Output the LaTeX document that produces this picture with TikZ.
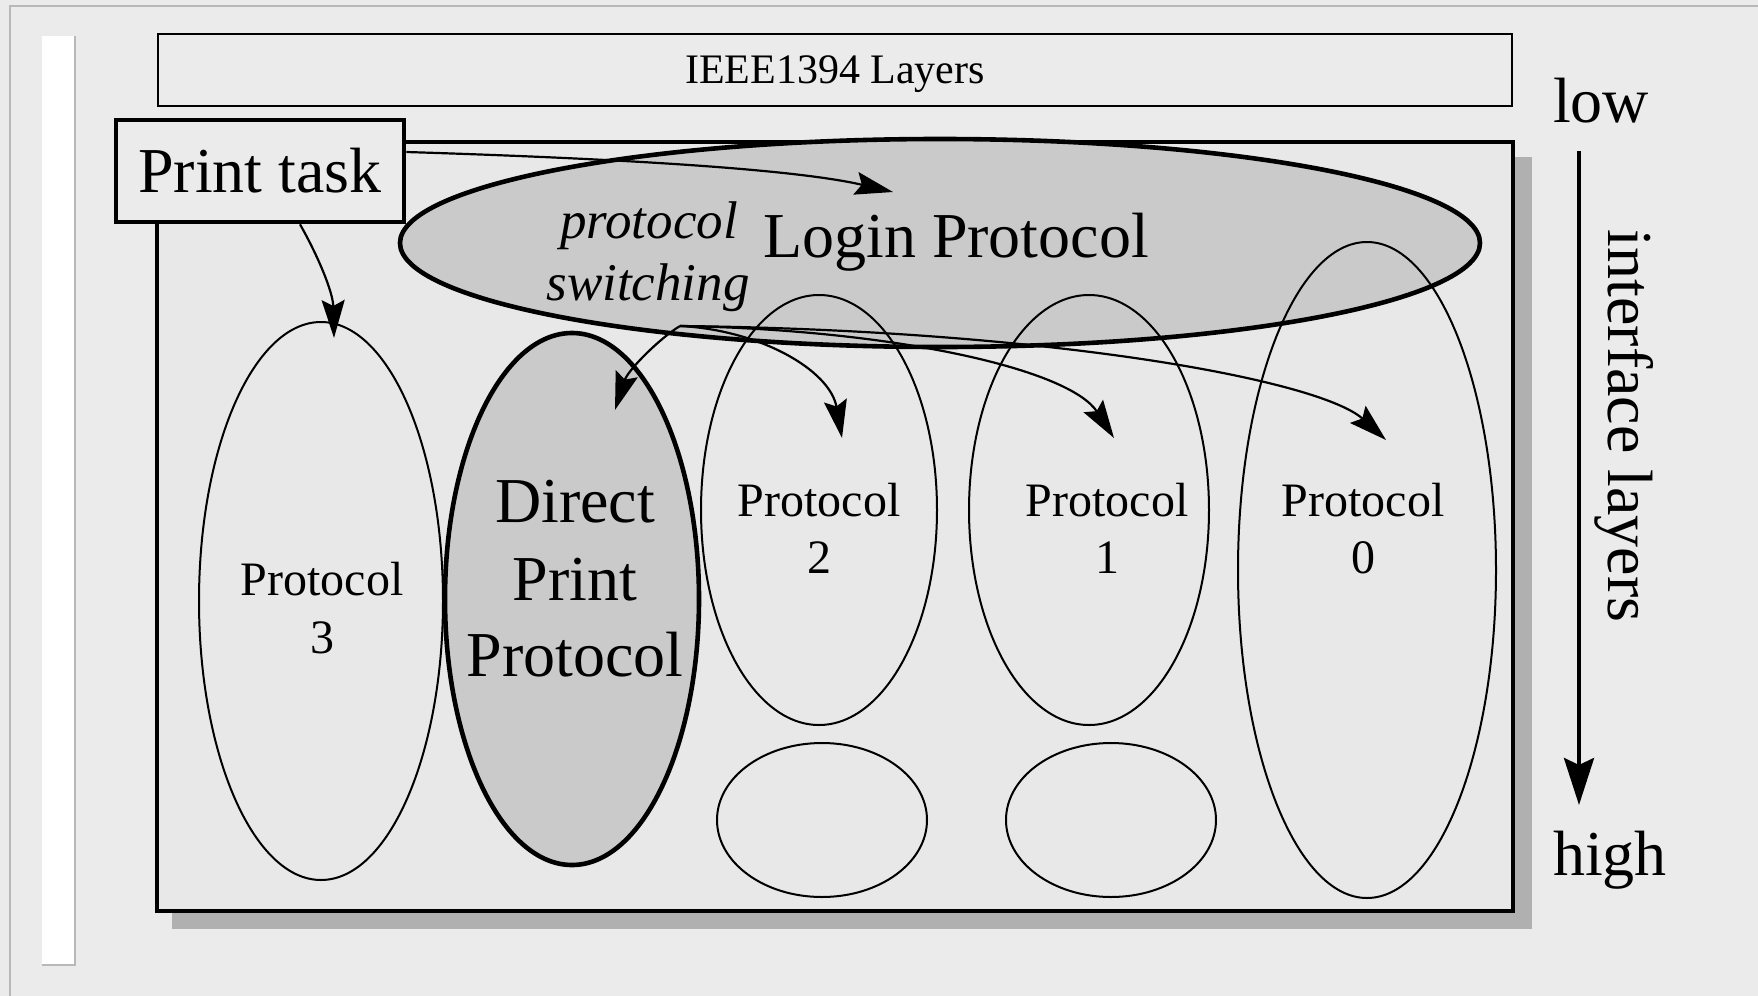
\documentclass[tikz,border=0pt]{standalone}
\usepackage{fontspec}
\setmainfont{Liberation Serif}
\usetikzlibrary{arrows.meta,shapes.geometric}
\definecolor{bgGray}{HTML}{EBEBEB}
\definecolor{boxGray}{HTML}{E8E8E8}
\definecolor{pGray}{HTML}{CACACA}
\definecolor{shGray}{HTML}{B0B0B0}
\definecolor{rimGray}{HTML}{B8B8B8}
\tikzset{
    proto/.style={ellipse, draw, line width=1pt, inner sep=0pt},
    hiproto/.style={ellipse, draw, line width=2.3pt, fill=pGray, inner sep=0pt},
    bigtxt/.style={font=\fontsize{32}{38}\selectfont, anchor=base, inner sep=0pt},
    lbltxt/.style={font=\fontsize{24}{29}\selectfont, anchor=base, inner sep=0pt},
    swtxt/.style={font=\fontsize{26.5}{31}\selectfont\itshape, anchor=base, inner sep=0pt},
    link/.style={-{Stealth[length=19pt,width=11.5pt,inset=3pt]}, line width=1.1pt}
}

\begin{document}
\begin{tikzpicture}[x=0.5pt,y=-0.5pt]
\useasboundingbox (0,0) rectangle (1758,996);
\fill[bgGray] (0,0) rectangle (1758,996);
\draw[rimGray,line width=1pt] (10,1010) |- (1770,6);
\fill[white] (42,36) rectangle (75,965);
\draw[rimGray,line width=1pt] (75,36) |- (42,965);

% top bar
\node[draw, line width=1pt, minimum width=677pt, minimum height=36pt, inner sep=0pt] (ieee) at (835,70) {};
\node[font=\fontsize{21}{25}\selectfont, anchor=base, inner sep=0pt] (ieeelbl) at (835,83) {IEEE1394 Layers};

% layer stack
\fill[shGray] (172,157) rectangle (1532,929);
\node[draw, line width=2.3pt, fill=boxGray, minimum width=678pt, minimum height=384.5pt, inner sep=0pt] (stack) at (835,526.5) {};

\node[hiproto, minimum width=540pt, minimum height=104pt] (login) at (940,243) {};
\node[proto, minimum width=122pt, minimum height=279pt] (p3) at (321,601) {};
\node[hiproto, minimum width=127pt, minimum height=266pt] (dpp) at (572,599) {};
\node[proto, minimum width=118pt, minimum height=215pt] (p2) at (819,510) {};
\node[proto, minimum width=120pt, minimum height=215pt] (p1) at (1089,510) {};
\node[proto, minimum width=129pt, minimum height=328pt] (p0) at (1367,570) {};
\node[proto, minimum width=105pt, minimum height=77pt] (s2) at (822,820) {};
\node[proto, minimum width=105pt, minimum height=77pt] (s1) at (1111,820) {};

\node[bigtxt] (loginlbl) at (956,257) {Login Protocol};
\node[swtxt] (swa) at (649,238) {protocol};
\node[swtxt] (swb) at (648,300) {switching};
\node[bigtxt] (dppa) at (575,522) {Direct};
\node[bigtxt] (dppb) at (575,600) {Print};
\node[bigtxt] (dppc) at (575,676) {Protocol};
\node[lbltxt] (p3a) at (322,595) {Protocol};
\node[lbltxt] (p3b) at (322,653) {3};
\node[lbltxt] (p2a) at (819,516) {Protocol};
\node[lbltxt] (p2b) at (819,573) {2};
\node[lbltxt] (p1a) at (1107,516) {Protocol};
\node[lbltxt] (p1b) at (1107,573) {1};
\node[lbltxt] (p0a) at (1363,516) {Protocol};
\node[lbltxt] (p0b) at (1363,573) {0};

\node[draw, line width=2.3pt, fill=bgGray, minimum width=144pt, minimum height=51pt, inner sep=0pt,
      font=\fontsize{32}{38}\selectfont] (print) at (260,171) {Print task};

% calls
\draw[link] ([yshift=9.5pt]print.east) .. controls (600,158) and (790,168) .. ([shift={(-47,-51)}]login.center);
\draw[link] ([xshift=20pt]print.south) .. controls (318,256) and (333,292) .. ([shift={(13,17)}]p3.north);
\coordinate (sw) at (680,326);
\draw[link] (sw) .. controls (660,338) and (628,370) .. ([shift={(43,-189)}]dpp.center);
\draw[link] (sw) .. controls (760,330) and (830,370) .. ([shift={(23,-72)}]p2.center);
\draw[link] (sw) .. controls (900,330) and (1070,370) .. ([shift={(25,-72)}]p1.center);
\draw[link] (sw) .. controls (1050,330) and (1320,380) .. ([shift={(19,-130)}]p0.center);

% side scale
\node[bigtxt] (low) at (1601,122) {low};
\node[bigtxt] (high) at (1610,875) {high};
\coordinate (scaletop) at (1579,151);
\coordinate (scalebot) at (1579,805);
\draw[line width=2pt, -{Stealth[length=23.5pt,width=15pt,inset=3.5pt]}] (scaletop) -- (scalebot);
\node[bigtxt, rotate=-90] (iface) at (1608,426) {interface layers};
\end{tikzpicture}
\end{document}
